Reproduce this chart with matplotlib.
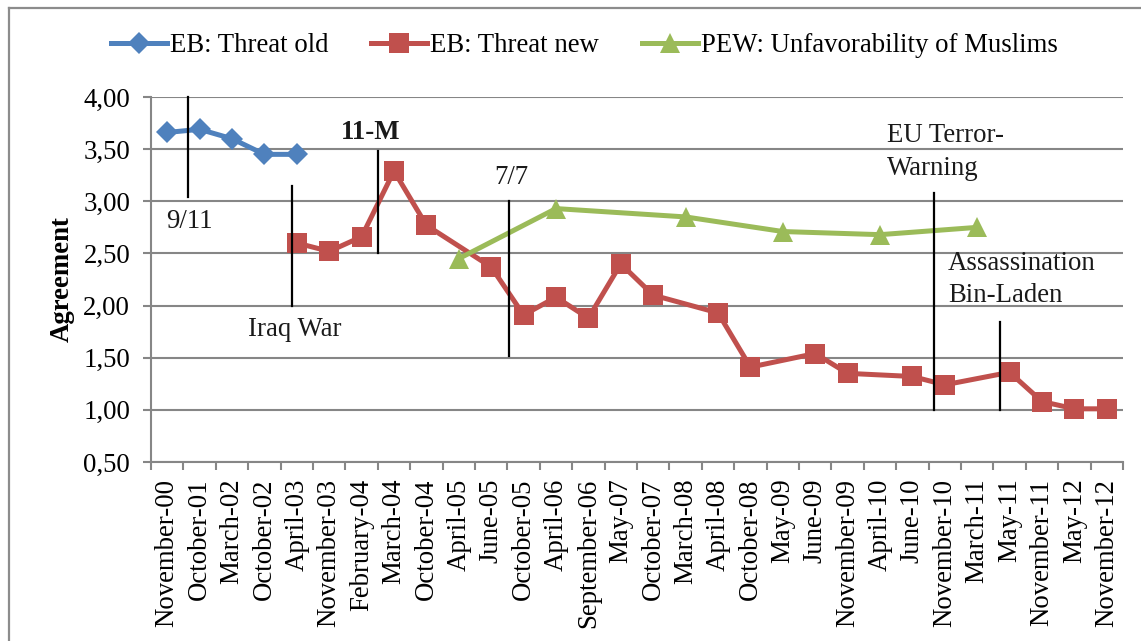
import numpy as np
import matplotlib
matplotlib.use("Agg")
import matplotlib.pyplot as plt
from matplotlib.lines import Line2D

categories = ["November-00", "October-01", "March-02", "October-02", "April-03",
              "November-03", "February-04", "March-04", "October-04", "April-05",
              "June-05", "October-05", "April-06", "September-06", "May-07",
              "October-07", "March-08", "April-08", "October-08", "May-09",
              "June-09", "November-09", "April-10", "June-10", "November-10",
              "March-11", "May-11", "November-11", "May-12", "November-12"]
nan = np.nan
threat_old = [3.66, 3.69, 3.60, 3.45, 3.45] + [nan] * 25
threat_new = [nan, nan, nan, nan, 2.60, 2.52, 2.66, 3.29, 2.77, nan,
              2.37, 1.91, 2.08, 1.88, 2.40, 2.10, nan, 1.93, 1.41, nan,
              1.54, 1.35, nan, 1.32, 1.24, nan, 1.36, 1.08, 1.01, 1.01]
pew_unfav = [nan] * 9 + [2.45, nan, nan, 2.93, nan, nan, nan, 2.85, nan, nan, 2.71,
             nan, nan, 2.68, nan, nan, 2.75, nan, nan, nan, nan]

# events: label, line x (category index), line y-range, text position
event_labels = ["9/11", "Iraq War", "11-M", "7/7", "EU Terror-\nWarning", "Assassination\nBin-Laden"]
event_line_x = [0.65, 3.86, 6.52, 10.55, 23.68, 25.70]
event_line_y0 = [3.04, 2.00, 2.50, 1.52, 1.00, 1.00]
event_line_y1 = [4.00, 3.15, 3.48, 3.00, 3.08, 1.84]
event_text_x = [0.67, 3.94, 6.29, 10.61, 22.22, 24.10]
event_text_y = [2.81, 1.77, 3.66, 3.23, 3.47, 2.25]
event_text_ha = ["center", "center", "center", "center", "left", "left"]
event_text_bold = [False, False, True, False, False, False]

plt.rcParams['font.family'] = ['Liberation Serif', 'DejaVu Serif']
FS = 19.3

W, H = 1141, 641
fig = plt.figure(figsize=(W / 100, H / 100), dpi=100)
ax = fig.add_axes([151 / W, 1 - 462 / H, (1123 - 151) / W, (462 - 97) / H])

x = np.arange(len(categories))
blue, red, green = "#4F81BD", "#C0504D", "#9BBB59"

def plot_series(vals, color, marker, ms, label):
    v = np.array(vals, dtype=float)
    m = ~np.isnan(v)
    return ax.plot(x[m], v[m], color=color, lw=3.6, marker=marker, ms=ms,
                   markeredgewidth=0, label=label, zorder=3, solid_joinstyle='round')[0]

h1 = plot_series(threat_old, blue, "D", 11, "EB: Threat old")
h2 = plot_series(threat_new, red, "s", 14.5, "EB: Threat new")
h3 = plot_series(pew_unfav, green, "^", 14, "PEW: Unfavorability of Muslims")

for lab, lx, y0, y1, tx, ty, ha, bold in zip(event_labels, event_line_x, event_line_y0,
                                             event_line_y1, event_text_x, event_text_y,
                                             event_text_ha, event_text_bold):
    ax.plot([lx, lx], [y0, y1], color="black", lw=1.6, zorder=4, clip_on=False)
    ax.text(tx, ty, lab, ha=ha, va="center", fontsize=FS,
            fontweight="bold" if bold else "normal", color="#1a1a1a",
            linespacing=1.4, zorder=5)

ax.set_xlim(-0.5, len(categories) - 0.5)
ax.set_ylim(0.5, 4.0)
yt = np.arange(0.5, 4.01, 0.5)
ax.set_yticks(yt)
ax.set_yticklabels([f"{t:.2f}".replace(".", ",") for t in yt], fontsize=FS)
ax.set_xticks(x)
ax.set_xticklabels(categories, rotation=90, fontsize=FS)
ax.set_xticks(np.arange(-0.5, len(categories), 1), minor=True)
ax.tick_params(axis='x', which='major', length=0, pad=12)
ax.tick_params(axis='x', which='minor', length=6, width=1.5, color="#868686", direction='out')
ax.tick_params(axis='y', length=6, width=1.5, color="#868686", pad=9)
ax.grid(axis='y', color="#868686", lw=1.5, zorder=0)
ax.set_axisbelow(True)
for s in ["top", "right"]:
    ax.spines[s].set_visible(False)
for s in ["left", "bottom"]:
    ax.spines[s].set_color("#868686")
    ax.spines[s].set_linewidth(1.5)
ax.set_ylabel("Agreement", fontsize=FS, fontweight="bold", labelpad=6)

fig.legend(handles=[h1, h2, h3], loc="center", bbox_to_anchor=(584 / W, 1 - 46 / H),
           ncol=3, frameon=False, fontsize=FS, handlelength=2.1, handletextpad=0.1,
           columnspacing=1.6, borderaxespad=0)

# outer chart border
fig.add_artist(Line2D([9 / W, 9 / W], [0, 1 - 8 / H], color="#8c8c8c", lw=1.6))
fig.add_artist(Line2D([9 / W, 1], [1 - 8 / H, 1 - 8 / H], color="#8c8c8c", lw=1.6))

fig.savefig("out.png", dpi=100)
